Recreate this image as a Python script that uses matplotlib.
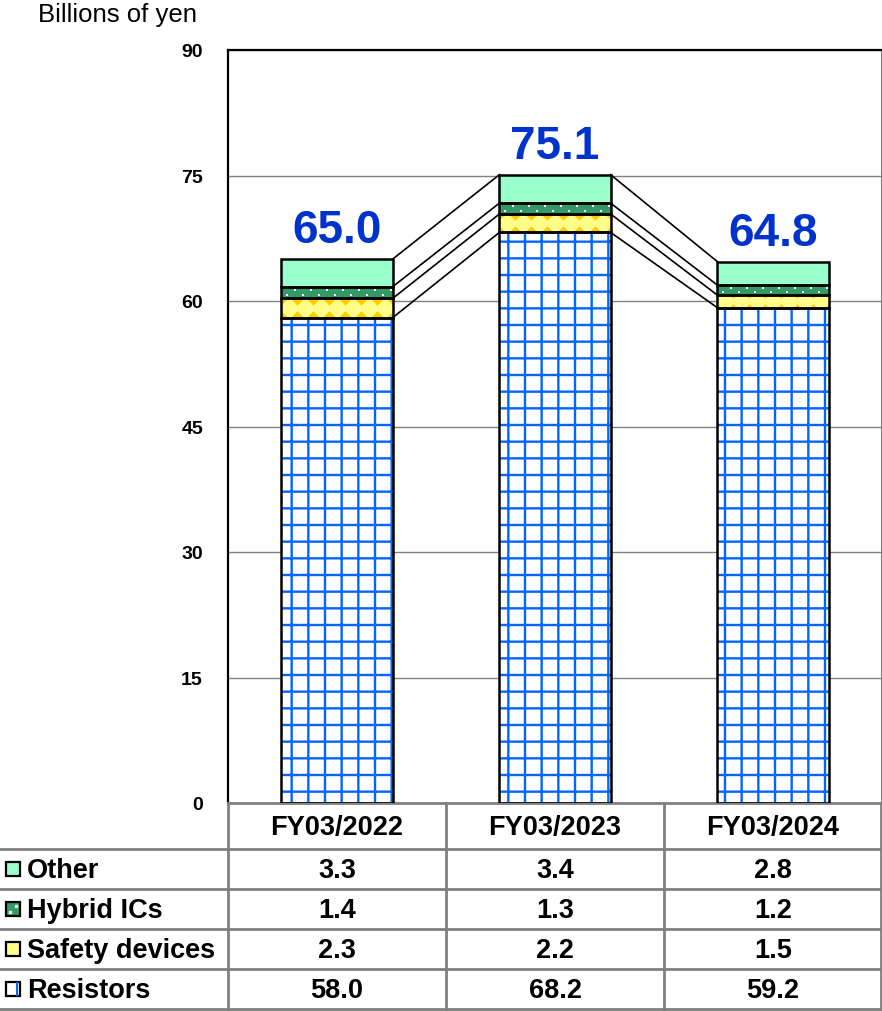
import numpy as np
import matplotlib
matplotlib.use("Agg")
import matplotlib.pyplot as plt
from matplotlib.patches import Rectangle

plt.rcParams['font.family'] = ['Liberation Sans', 'DejaVu Sans']
plt.rcParams['hatch.linewidth'] = 1.7

# --- data (billions of yen) ---
years = ["FY03/2022", "FY03/2023", "FY03/2024"]
segments = ["Resistors", "Safety devices", "Hybrid ICs", "Other"]
resistors = [58.0, 68.2, 59.2]
safety = [2.3, 2.2, 1.5]
hybrid = [1.4, 1.3, 1.2]
other = [3.3, 3.4, 2.8]
totals = [65.0, 75.1, 64.8]

stack = np.array([resistors, safety, hybrid, other])
cum = np.cumsum(stack, axis=0)
bottoms = cum - stack

W, H = 882, 1012
fig = plt.figure(figsize=(W / 100, H / 100), dpi=100)

# main plot area in pixel terms
x0, x1 = 228, 882
y_top, y_bot = 51, 804
ax = fig.add_axes([x0 / W, (H - y_bot) / H, (x1 - x0) / W, (y_bot - y_top) / H])

x = np.arange(len(years))
bw = 0.51
px = 1 / 218          # one pixel in x data units
GRAY = '#808080'
BLUE_GRID = '#0066ff'
GOLD, PALE = '#ffcc00', '#ffff88'
GREEN, MINT = '#339966', '#99ffcc'

ax.set_xlim(-0.5, 2.5)
ax.set_ylim(0, 90)
ax.set_yticks(np.arange(0, 91, 15))
ax.set_xticks([])
ax.tick_params(axis='y', length=0, pad=18, labelsize=14)
for lab in ax.get_yticklabels():
    lab.set_fontweight('bold')
ax.yaxis.grid(True, color=GRAY, lw=1)
ax.set_axisbelow(True)
ax.spines['left'].set_color('black')
ax.spines['left'].set_linewidth(1.6)
ax.spines['top'].set_color('black')
ax.spines['top'].set_linewidth(1.6)
ax.spines['right'].set_color(GRAY)
ax.spines['right'].set_linewidth(1.5)
ax.spines['bottom'].set_color(GRAY)
ax.spines['bottom'].set_linewidth(2)

# resistors: white with blue grid
ax.bar(x, stack[0], bw, bottom=bottoms[0], color='white', hatch='+',
       edgecolor=BLUE_GRID, linewidth=0, zorder=2)
# safety devices: gold band with pale diamonds
safety_bars = ax.bar(x, stack[1], bw, bottom=bottoms[1], color=GOLD, linewidth=0, zorder=2)
# hybrid ICs: green with white dots
hybrid_bars = ax.bar(x, stack[2], bw, bottom=bottoms[2], color=GREEN, linewidth=0, zorder=2)
# other: plain mint
ax.bar(x, stack[3], bw, bottom=bottoms[3], color=MINT, linewidth=0, zorder=2)

for i in range(len(years)):
    left = x[i] - bw / 2
    xs = np.arange(left + 8 * px, x[i] + bw / 2, 16 * px)
    ym = bottoms[1][i] + stack[1][i] / 2
    sc = ax.scatter(xs, np.full_like(xs, ym), marker='D', s=120, color=PALE,
                    linewidths=0, zorder=3)
    sc.set_clip_path(safety_bars[i])

    h = stack[2][i]
    for r, frac in enumerate([0.3, 0.7]):
        xd = np.arange(left + (6 + 8 * r) * px, x[i] + bw / 2, 16 * px)
        yd = np.full_like(xd, bottoms[2][i] + frac * h)
        d = ax.scatter(xd, yd, marker='s', s=4, color='white', linewidths=0, zorder=3)
        d.set_clip_path(hybrid_bars[i])

for k in range(len(segments)):
    ax.bar(x, stack[k], bw, bottom=bottoms[k], facecolor='none',
           edgecolor='black', linewidth=1.8, zorder=4)

# connector lines between neighbouring stacks
for i in range(len(years) - 1):
    for k in range(len(segments)):
        ax.plot([x[i] + bw / 2, x[i + 1] - bw / 2], [cum[k][i], cum[k][i + 1]],
                color='black', lw=1.2, zorder=3)

# totals above bars
for i, t in enumerate(totals):
    ax.annotate(f"{t:.1f}", (x[i], cum[-1][i]), xytext=(0, 12),
                textcoords='offset points', ha='center', va='baseline',
                fontsize=33, fontweight='bold', color='#0033cc')

fig.text(38 / W, 1 - 15 / H, "Billions of yen", fontsize=18.5, ha='left', va='center')

# --- data table under the chart ---
tab = fig.add_axes([0, 0, 1, (H - y_bot) / H])
tab.set_xlim(0, W)
tab.set_ylim(H, y_bot)
tab.axis('off')

row_lines = [850, 890, 930, 970, 1010]
col_edges = [x0 + (x1 - x0) * j / 3 for j in range(4)]
for yy in row_lines:
    tab.plot([0, W], [yy, yy], color=GRAY, lw=2, clip_on=False)
for xx in col_edges[:-1]:
    tab.plot([xx, xx], [y_bot, row_lines[-1]], color=GRAY, lw=2, clip_on=False)
tab.plot([W - 1, W - 1], [y_bot, row_lines[-1]], color=GRAY, lw=2, clip_on=False)

centers = [(col_edges[j] + col_edges[j + 1]) / 2 for j in range(3)]
for j, yr in enumerate(years):
    tab.text(centers[j], 828, yr, ha='center', va='center', fontsize=19.5, fontweight='bold')

# rows listed top-down: Other, Hybrid, Safety, Resistors
row_order = [3, 2, 1, 0]
legend_faces = ['white', PALE, GREEN, MINT]
for r, k in enumerate(row_order):
    yc = (row_lines[r] + row_lines[r + 1]) / 2
    sq = Rectangle((6, yc - 7), 14, 14, facecolor=legend_faces[k], edgecolor='black', lw=1.6)
    tab.add_patch(sq)
    if k == 0:
        tab.plot([16.5, 16.5], [yc - 6, yc + 6], color=BLUE_GRID, lw=1.5)
    if k == 2:
        tab.plot([10, 16], [yc + 3, yc - 3], ls='none', marker='s', ms=1.5, color='white')
    tab.text(27, yc + 1, segments[k], ha='left', va='center', fontsize=19.5, fontweight='bold')
    for j in range(3):
        tab.text(centers[j], yc + 1, f"{stack[k][j]:.1f}", ha='center', va='center',
                 fontsize=19.5, fontweight='bold')

fig.savefig("out.png", dpi=100)
